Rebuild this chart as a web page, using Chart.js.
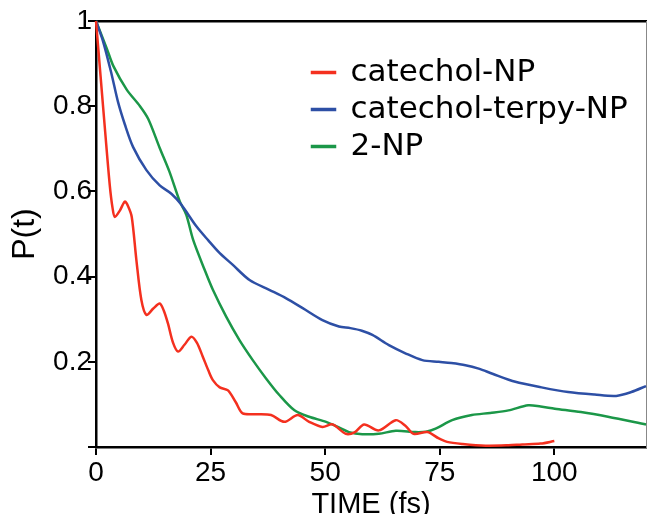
<!DOCTYPE html>
<html>
<head>
<meta charset="utf-8">
<script src="https://cdn.jsdelivr.net/npm/chart.js@4/dist/chart.umd.min.js"></script>
<style>
  html, body { margin: 0; padding: 0; background: #fff; }
  #wrap { width: 647px; height: 514px; }
</style>
</head>
<body>
<div id="wrap"><canvas id="pt" width="647" height="514"></canvas></div>
<script>
// P(t) decay curves
const catecholT = [0, 1, 2, 3, 3.6, 4.1, 5.2, 6.3, 7.0, 7.8, 8.8, 9.9, 11, 12.5, 13.9, 14.8, 15.7, 16.8, 17.9, 19.3, 20.8, 22.0, 23.3, 24.5, 25.5, 27, 28.8, 30.5, 32, 35, 38.2, 41.1, 44, 46.5, 49.4, 51.6, 54.5, 56.5, 58.5, 61.7, 65.4, 67.5, 69.3, 72.3, 74.8, 76.6, 80, 85, 90, 93, 97, 100];
const catecholP = [1, 0.87, 0.74, 0.615, 0.562, 0.54, 0.555, 0.576, 0.565, 0.54, 0.44, 0.345, 0.31, 0.325, 0.337, 0.32, 0.29, 0.245, 0.224, 0.24, 0.259, 0.245, 0.212, 0.18, 0.157, 0.14, 0.133, 0.105, 0.079, 0.077, 0.075, 0.059, 0.075, 0.059, 0.047, 0.053, 0.031, 0.035, 0.053, 0.039, 0.063, 0.05, 0.031, 0.035, 0.02, 0.012, 0.007, 0.003, 0.004, 0.006, 0.008, 0.014];

const terpyT = [0, 1.6, 3.4, 4.8, 6.3, 8.1, 11, 13.9, 16.5, 18.6, 21.9, 24.5, 27, 29.8, 33.5, 37.8, 41.5, 45.1, 49.4, 53, 55.5, 58, 60.3, 63.9, 67.5, 71.2, 74.8, 77.5, 80.6, 83.5, 86.5, 91.5, 97.2, 103, 108.8, 113.5, 116.8, 120];
const terpyP = [1, 0.95, 0.875, 0.81, 0.757, 0.704, 0.65, 0.614, 0.594, 0.569, 0.518, 0.485, 0.455, 0.428, 0.392, 0.369, 0.349, 0.326, 0.298, 0.283, 0.279, 0.273, 0.263, 0.239, 0.22, 0.204, 0.2, 0.197, 0.192, 0.184, 0.172, 0.153, 0.14, 0.129, 0.123, 0.12, 0.129, 0.143];

const npT = [0, 2.3, 3.8, 6.7, 9.6, 11.4, 13.9, 16, 18.3, 19.7, 21.2, 23.7, 25.5, 28.4, 31.3, 34.2, 37.1, 40, 43.3, 46.5, 50.2, 53, 55.2, 58.1, 61.7, 65.4, 69.7, 72, 74.1, 77.7, 82, 86, 90, 94.3, 97, 100.1, 105.8, 111.7, 120];
const npP = [1, 0.937, 0.894, 0.839, 0.8, 0.77, 0.702, 0.647, 0.576, 0.545, 0.486, 0.416, 0.369, 0.306, 0.251, 0.204, 0.161, 0.122, 0.086, 0.071, 0.059, 0.046, 0.035, 0.03, 0.031, 0.038, 0.035, 0.036, 0.043, 0.063, 0.075, 0.08, 0.086, 0.098, 0.095, 0.09, 0.082, 0.071, 0.053];

const seriesNames = ['catechol-NP', 'catechol-terpy-NP', '2-NP'];
const seriesColors = ['#f4301f', '#2d4fa5', '#1b9748'];

const xTicks = [0, 25, 50, 75, 100];
const yTicks = [0, 0.2, 0.4, 0.6, 0.8, 1];
const yTickLabels = ['', '0.2', '0.4', '0.6', '0.8', '1'];

const pairs = (xs, ys) => xs.map((x, i) => ({ x: x, y: ys[i] }));
const allT = [catecholT, terpyT, npT];
const allP = [catecholP, terpyP, npP];

const datasets = seriesNames.map((name, i) => ({
    label: name,
    data: pairs(allT[i], allP[i]),
    borderColor: seriesColors[i],
    backgroundColor: seriesColors[i],
    borderWidth: 2.5,
    pointRadius: 0,
    tension: 0.3,
    clip: false
}));

const tickFont = { family: 'Liberation Sans', size: 28 };

// moves the legend box into the upper right of the plot
const legendSpot = {
    id: 'legendSpot',
    afterLayout(chart) {
        const lg = chart.legend;
        lg.left = 306;
        lg.top = 51;
    }
};

new Chart(document.getElementById('pt').getContext('2d'), {
    type: 'line',
    data: { datasets: datasets },
    plugins: [legendSpot],
    options: {
        responsive: false,
        animation: false,
        layout: { padding: 0 },
        scales: {
            x: {
                type: 'linear',
                position: 'bottom',
                min: 0,
                max: 120,
                afterBuildTicks: (s) => { s.ticks = xTicks.map(v => ({ value: v })); },
                afterFit: (s) => { s.height = 67; },
                border: { color: '#000', width: 2.5 },
                grid: { drawOnChartArea: false, tickLength: 8, color: '#000', lineWidth: 2 },
                ticks: { font: tickFont, color: '#000', padding: 1, maxRotation: 0, autoSkip: false },
                title: {
                    display: true,
                    text: 'TIME (fs)',
                    color: '#000',
                    font: { family: 'Liberation Sans', size: 29 },
                    padding: { top: 0, bottom: -8 }
                }
            },
            x2: {
                type: 'linear',
                position: 'top',
                min: 0,
                max: 120,
                afterFit: (s) => { s.height = 21; },
                border: { color: '#000', width: 2.5 },
                grid: { display: false },
                ticks: { display: false }
            },
            y: {
                type: 'linear',
                position: 'left',
                min: 0,
                max: 1,
                afterBuildTicks: (s) => { s.ticks = yTicks.map(v => ({ value: v })); },
                afterFit: (s) => { s.width = 96; },
                border: { color: '#000', width: 2.5 },
                grid: { drawOnChartArea: false, tickLength: 8, color: '#000', lineWidth: 2 },
                ticks: {
                    font: tickFont,
                    color: '#000',
                    padding: -4,
                    autoSkip: false,
                    callback: (v) => yTickLabels[yTicks.indexOf(v)]
                },
                title: {
                    display: true,
                    text: 'P(t)',
                    color: '#000',
                    font: { family: 'Liberation Sans', size: 32 },
                    padding: { top: 6, bottom: 0 }
                }
            },
            y2: {
                type: 'linear',
                position: 'right',
                min: 0,
                max: 1,
                afterFit: (s) => { s.width = 1; },
                border: { color: '#888', width: 1 },
                grid: { display: false },
                ticks: { display: false }
            }
        },
        plugins: {
            legend: {
                position: 'chartArea',
                align: 'start',
                labels: {
                    font: { family: 'DejaVu Sans', size: 31 },
                    color: '#000',
                    boxWidth: 23,
                    boxHeight: 1,
                    padding: 6
                }
            },
            tooltip: { enabled: false }
        }
    }
});
</script>
</body>
</html>
